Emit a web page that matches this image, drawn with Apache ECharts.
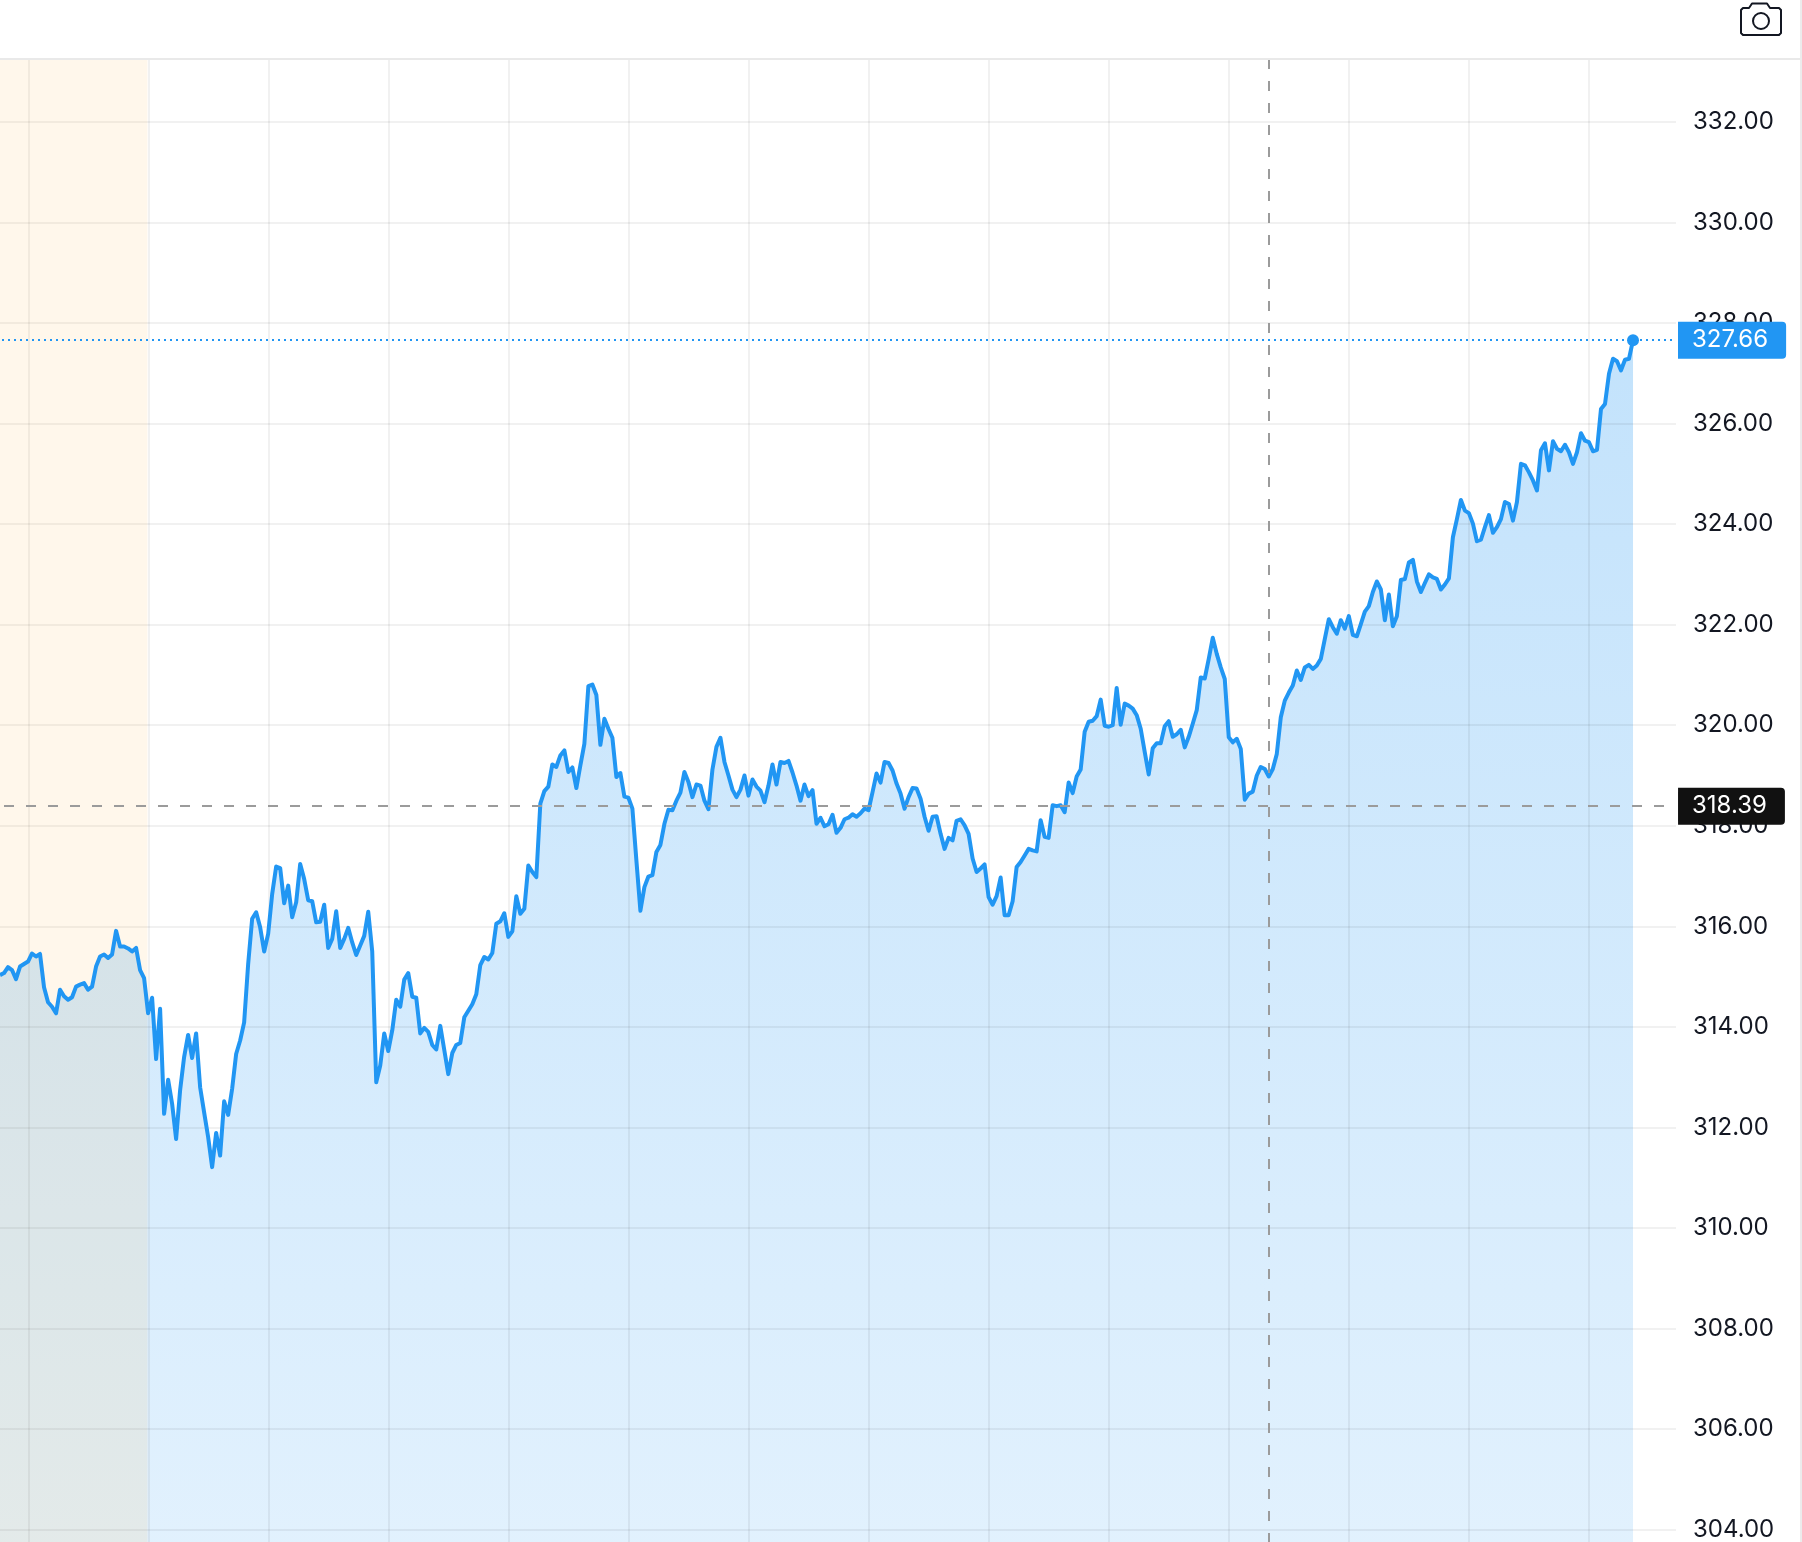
<!DOCTYPE html>
<html>
<head>
<meta charset="utf-8">
<style>
html,body{margin:0;padding:0;background:#fff;overflow:hidden}
#chart{width:1802px;height:1542px}
</style>
<script src="https://cdn.jsdelivr.net/npm/echarts@6/dist/echarts.min.js"></script>
</head>
<body>
<div id="chart"></div>
<script>
const prices = [
315.03,315.07,315.19,315.13,314.95,315.20,315.25,315.30,315.46,315.40,
315.45,314.79,314.49,314.40,314.27,314.74,314.61,314.54,314.59,314.80,
314.84,314.87,314.74,314.80,315.20,315.40,315.44,315.37,315.44,315.91,
315.60,315.60,315.56,315.50,315.57,315.13,314.97,314.27,314.58,313.36,
314.36,312.27,312.95,312.47,311.77,312.74,313.40,313.84,313.38,313.87,
312.80,312.30,311.81,311.21,311.89,311.44,312.52,312.25,312.77,313.46,
313.73,314.09,315.25,316.15,316.28,315.98,315.50,315.85,316.64,317.19,
317.16,316.46,316.81,316.18,316.48,317.24,316.94,316.52,316.50,316.08,
316.09,316.43,315.57,315.75,316.30,315.57,315.75,315.97,315.68,315.43,
315.62,315.81,316.29,315.50,312.90,313.23,313.87,313.52,313.93,314.54,
314.40,314.94,315.07,314.60,314.58,313.87,313.98,313.90,313.64,313.55,
314.02,313.54,313.06,313.48,313.64,313.68,314.19,314.32,314.45,314.65,
315.23,315.39,315.34,315.47,316.05,316.10,316.26,315.79,315.90,316.60,
316.25,316.35,317.21,317.08,316.98,318.44,318.69,318.78,319.22,319.17,
319.40,319.50,319.07,319.16,318.75,319.20,319.63,320.78,320.81,320.60,
319.61,320.13,319.93,319.75,318.97,319.05,318.58,318.56,318.34,317.31,
316.31,316.78,316.99,317.02,317.48,317.62,318.04,318.32,318.31,318.50,
318.66,319.07,318.87,318.57,318.82,318.80,318.50,318.33,319.12,319.57,
319.75,319.27,319.00,318.72,318.57,318.72,319.00,318.60,318.92,318.78,
318.70,318.47,318.80,319.22,318.82,319.27,319.25,319.29,319.06,318.80,
318.50,318.82,318.59,318.71,318.04,318.16,317.99,318.03,318.22,317.86,
317.96,318.13,318.16,318.23,318.18,318.25,318.34,318.31,318.67,319.04,
318.86,319.27,319.25,319.10,318.84,318.64,318.34,318.57,318.75,318.74,
318.54,318.18,317.90,318.18,318.19,317.84,317.54,317.76,317.71,318.10,
318.13,318.01,317.84,317.35,317.08,317.15,317.23,316.58,316.43,316.60,
316.97,316.22,316.22,316.50,317.18,317.28,317.41,317.54,317.51,317.49,
318.11,317.78,317.76,318.41,318.39,318.41,318.27,318.86,318.65,318.98,
319.12,319.87,320.07,320.09,320.18,320.51,319.99,319.97,320.00,320.74,
320.01,320.43,320.39,320.33,320.20,319.93,319.47,319.02,319.54,319.64,
319.64,319.98,320.08,319.77,319.82,319.91,319.56,319.77,320.03,320.30,
320.95,320.93,321.32,321.74,321.42,321.15,320.92,319.76,319.66,319.73,
319.53,318.52,318.64,318.68,319.00,319.17,319.13,318.98,319.13,319.43,
320.16,320.49,320.65,320.79,321.09,320.90,321.15,321.20,321.12,321.19,
321.32,321.72,322.11,321.95,321.82,322.09,321.92,322.17,321.80,321.77,
322.01,322.26,322.37,322.65,322.86,322.70,322.09,322.60,321.97,322.17,
322.89,322.91,323.24,323.29,322.86,322.65,322.83,323.00,322.94,322.91,
322.70,322.80,322.92,323.74,324.10,324.48,324.27,324.22,324.01,323.66,
323.69,323.94,324.18,323.83,323.94,324.10,324.44,324.40,324.07,324.44,
325.20,325.17,325.03,324.87,324.67,325.47,325.61,325.07,325.65,325.50,
325.45,325.58,325.43,325.20,325.43,325.81,325.66,325.63,325.45,325.48,
326.29,326.39,326.99,327.29,327.24,327.06,327.27,327.29,327.66
];
const priceTicks = [304,306,308,310,312,314,316,318,320,322,324,326,328,330,332];
const timeTicks = [7.245,37.227,67.208,97.189,127.17,157.15,187.13,217.11,247.1,277.08,307.06,337.04,367.02,397];
const lastPrice = 327.66;
const crosshairPrice = 318.39;
const crosshairBar = 317.05;
const sessionEndBar = 36.85;

const yMin = 303.753, yMax = 333.253;
const xMin = 0, xMax = 418.74;
const seriesData = prices.map((p, i) => [i, p]);
const FONT = 'Inter';

const chart = echarts.init(document.getElementById('chart'), null, {renderer: 'canvas'});
chart.setOption({
  animation: false,
  backgroundColor: '#ffffff',
  grid: {left: 0, right: 126, top: 59, bottom: 0, containLabel: false},
  xAxis: {
    type: 'value', min: xMin, max: xMax, z: 2,
    axisLine: {show: false},
    axisTick: {show: false, customValues: timeTicks},
    axisLabel: {show: false, customValues: timeTicks},
    splitLine: {show: true, lineStyle: {color: 'rgba(0,0,0,0.055)', width: 2}}
  },
  yAxis: {
    type: 'value', position: 'right', min: yMin, max: yMax, z: 2,
    axisLine: {show: false},
    axisTick: {show: false, customValues: priceTicks},
    axisLabel: {
      show: true, customValues: priceTicks, margin: 17,
      color: '#131722', fontFamily: FONT, fontSize: 24, padding: [8, 0, 0, 0],
      formatter: v => v.toFixed(2)
    },
    splitLine: {show: true, lineStyle: {color: 'rgba(0,0,0,0.055)', width: 2}}
  },
  series: [
    {
      type: 'line', z: 1, data: seriesData, showSymbol: false, symbol: 'none',
      lineStyle: {width: 0},
      areaStyle: {
        opacity: 1,
        origin: 'start',
        color: {type: 'linear', x: 0, y: 0, x2: 0, y2: 1, colorStops: [
          {offset: 0, color: 'rgba(33,150,243,0.27)'},
          {offset: 1, color: 'rgba(33,150,243,0.135)'}
        ]}
      },
      silent: true
    },
    {
      type: 'line', z: 5, data: seriesData, showSymbol: false, symbol: 'none',
      lineStyle: {color: '#2196f3', width: 4, join: 'round'},
      silent: true,
      markArea: {
        silent: true, z: 3,
        itemStyle: {color: 'rgba(255,152,0,0.08)', opacity: 1},
        data: [[{xAxis: xMin}, {xAxis: sessionEndBar}]]
      },
      markPoint: {
        silent: true, z: 7,
        symbol: 'circle', symbolSize: 12,
        itemStyle: {color: '#2196f3'},
        label: {show: false},
        data: [{coord: [prices.length - 1, lastPrice]}]
      },
      markLine: {
        silent: true, z: 6, symbol: 'none', animation: false, precision: 2,
        data: [
          [
            {coord: [crosshairBar, yMax], lineStyle: {color: '#9b9b9b', width: 2, type: [10, 12]}, label: {show: false}},
            {coord: [crosshairBar, yMin]}
          ],
          [
            {coord: [1, crosshairPrice], lineStyle: {color: '#9b9b9b', width: 2, type: [10, 12]},
             label: {show: true, position: 'end', distance: 13, formatter: crosshairPrice.toFixed(2),
               color: '#ffffff', fontFamily: FONT, fontSize: 24, backgroundColor: '#111111',
               padding: [10, 18, 3, 14], borderRadius: [0, 4, 4, 0]}},
            {coord: [416, crosshairPrice]}
          ],
          [
            {coord: [0.5, lastPrice], lineStyle: {color: '#2196f3', width: 2, type: [2, 4]},
             label: {show: true, position: 'end', distance: 4, formatter: lastPrice.toFixed(2),
               color: '#ffffff', fontFamily: FONT, fontSize: 24, backgroundColor: '#2196f3',
               padding: [10, 18, 3, 14], borderRadius: [0, 4, 4, 0]}},
            {coord: [418.24, lastPrice]}
          ]
        ]
      }
    }
  ],
  graphic: [
    {type: 'rect', silent: true, z: 20, shape: {x: 0, y: 58, width: 1800, height: 2}, style: {fill: '#e9e9e9'}},
    {type: 'rect', silent: true, z: 20, shape: {x: 1800, y: 0, width: 2, height: 1542}, style: {fill: '#ececec'}},
    {type: 'polygon', silent: true, z: 20,
     shape: {points: [[1743,8],[1749,8],[1752,3.5],[1767,3.5],[1770,8],[1779,8],[1781,10],[1781,33],[1779,35],[1743,35],[1741,33],[1741,10]]},
     style: {fill: 'none', stroke: '#131722', lineWidth: 2, lineJoin: 'round'}},
    {type: 'circle', silent: true, z: 20, shape: {cx: 1761, cy: 21, r: 8}, style: {fill: 'none', stroke: '#131722', lineWidth: 2}}
  ]
});
</script>
</body>
</html>
